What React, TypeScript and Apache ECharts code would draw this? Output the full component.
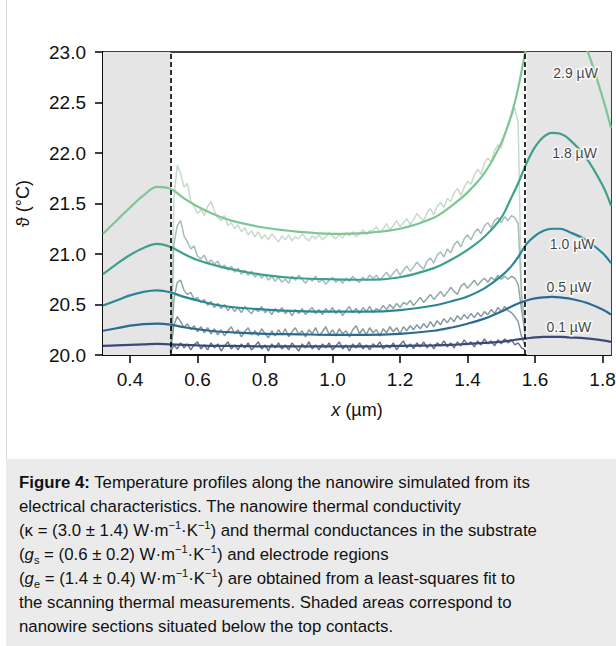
import React, { useEffect, useRef } from "react";
import * as echarts from "echarts";

const FONT = "Liberation Sans, Arial, Helvetica, sans-serif";

// measured (noisy) profiles
const measX = [
  0.52, 0.53, 0.54, 0.55, 0.56, 0.57, 0.58, 0.59, 0.6, 0.61,
  0.62, 0.63, 0.64, 0.65, 0.66, 0.67, 0.68, 0.69, 0.7, 0.71,
  0.72, 0.73, 0.74, 0.75, 0.76, 0.77, 0.78, 0.79, 0.8, 0.81,
  0.82, 0.83, 0.84, 0.85, 0.86, 0.87, 0.88, 0.89, 0.9, 0.91,
  0.92, 0.93, 0.94, 0.95, 0.96, 0.97, 0.98, 0.99, 1.0, 1.01,
  1.02, 1.03, 1.04, 1.05, 1.06, 1.07, 1.08, 1.09, 1.1, 1.11,
  1.12, 1.13, 1.14, 1.15, 1.16, 1.17, 1.18, 1.19, 1.2, 1.21,
  1.22, 1.23, 1.24, 1.25, 1.26, 1.27, 1.28, 1.29, 1.3, 1.31,
  1.32, 1.33, 1.34, 1.35, 1.36, 1.37, 1.38, 1.39, 1.4, 1.41,
  1.42, 1.43, 1.44, 1.45, 1.46, 1.47, 1.48, 1.49, 1.5, 1.51,
  1.52, 1.53, 1.54, 1.55, 1.56, 1.57,
];
const meas29 = [
  20.05, 21.55, 21.88, 21.8, 21.66, 21.7, 21.52, 21.47, 21.4, 21.44,
  21.38, 21.47, 21.52, 21.43, 21.36, 21.33, 21.38, 21.28, 21.31, 21.25,
  21.29, 21.22, 21.26, 21.19, 21.23, 21.17, 21.22, 21.15, 21.19, 21.14,
  21.2, 21.16, 21.12, 21.18, 21.14, 21.19, 21.13, 21.17, 21.15, 21.2,
  21.16, 21.13, 21.18, 21.15, 21.19, 21.14, 21.17, 21.21, 21.18, 21.15,
  21.19, 21.16, 21.21, 21.18, 21.22, 21.17, 21.2, 21.24, 21.19, 21.23,
  21.23, 21.27, 21.21, 21.25, 21.3, 21.24, 21.28, 21.33, 21.27, 21.31,
  21.35, 21.29, 21.34, 21.4, 21.36, 21.33, 21.41, 21.45, 21.39, 21.47,
  21.51, 21.46, 21.55, 21.52, 21.6, 21.65, 21.58, 21.66, 21.72, 21.69,
  21.78, 21.84, 21.79, 21.9, 21.95, 21.91, 22.02, 22.08, 22.05, 22.18,
  22.27, 22.36, 22.45, 22.3, 20.55, 20.2,
];
const meas18 = [
  20.03, 21.1, 21.28, 21.33, 21.18, 21.12, 21.05, 21.08, 20.98, 20.95,
  20.99, 20.91, 20.94, 20.9, 20.93, 20.86, 20.89, 20.84, 20.88, 20.82,
  20.86, 20.8, 20.84, 20.79, 20.83, 20.77, 20.81, 20.76, 20.8, 20.74,
  20.78, 20.73, 20.77, 20.72, 20.75, 20.71, 20.78, 20.74, 20.79, 20.75,
  20.71, 20.76, 20.73, 20.78, 20.72, 20.75, 20.7, 20.74, 20.77, 20.72,
  20.75, 20.71, 20.76, 20.73, 20.78, 20.74, 20.72, 20.77, 20.74, 20.79,
  20.76, 20.79, 20.74, 20.78, 20.82, 20.77, 20.81, 20.85, 20.79, 20.84,
  20.88, 20.83, 20.87, 20.92, 20.88, 20.85, 20.93, 20.96, 20.91, 20.99,
  21.02, 20.97, 21.05, 21.01, 21.09, 21.13, 21.07, 21.15, 21.19, 21.14,
  21.21, 21.25, 21.2, 21.28, 21.31, 21.26, 21.33, 21.36, 21.31, 21.37,
  21.33, 21.38, 21.36, 21.3, 20.6, 20.3,
];
const meas10 = [
  20.02, 20.55, 20.72, 20.74, 20.64, 20.6, 20.62, 20.55, 20.57, 20.52,
  20.55, 20.49, 20.53, 20.47, 20.51, 20.46, 20.5, 20.44, 20.48, 20.43,
  20.47, 20.42, 20.48, 20.44, 20.41, 20.46, 20.43, 20.48, 20.42, 20.45,
  20.4, 20.46, 20.42, 20.47, 20.41, 20.44, 20.39, 20.45, 20.41, 20.46,
  20.4, 20.44, 20.47, 20.41, 20.45, 20.4, 20.46, 20.42, 20.47, 20.41,
  20.45, 20.39, 20.44, 20.48, 20.42, 20.46, 20.41, 20.47, 20.43, 20.48,
  20.42, 20.46, 20.44, 20.49, 20.45, 20.5, 20.46, 20.51, 20.47, 20.52,
  20.5, 20.54, 20.49, 20.53, 20.57, 20.52, 20.56, 20.6, 20.55, 20.59,
  20.63, 20.58, 20.62, 20.67, 20.63, 20.6, 20.68, 20.71, 20.66, 20.7,
  20.74, 20.69, 20.73, 20.76, 20.72, 20.77, 20.74, 20.79, 20.75, 20.78,
  20.75, 20.78, 20.76, 20.7, 20.45, 20.22,
];
const meas05 = [
  20.02, 20.3, 20.38, 20.33, 20.27, 20.31, 20.25, 20.29, 20.23, 20.28,
  20.22, 20.27, 20.21, 20.26, 20.2, 20.25, 20.19, 20.24, 20.28, 20.21,
  20.25, 20.18, 20.23, 20.27, 20.2, 20.24, 20.19, 20.26, 20.21, 20.17,
  20.24, 20.19, 20.25, 20.2, 20.26, 20.18, 20.23, 20.27, 20.2, 20.24,
  20.18, 20.25, 20.21, 20.27, 20.19, 20.23, 20.28, 20.2, 20.25, 20.19,
  20.26, 20.21, 20.24, 20.18, 20.25, 20.29, 20.21, 20.26, 20.2, 20.27,
  20.22, 20.25, 20.19, 20.26, 20.22, 20.28, 20.23, 20.27, 20.21, 20.28,
  20.24, 20.29, 20.25, 20.3, 20.26, 20.31, 20.27, 20.33, 20.28, 20.34,
  20.3, 20.36, 20.32, 20.37, 20.33, 20.39, 20.35, 20.4, 20.36, 20.41,
  20.37, 20.42, 20.38, 20.43, 20.4, 20.45, 20.41, 20.47, 20.43, 20.48,
  20.44, 20.42, 20.38, 20.33, 20.18, 20.1,
];
const meas01 = [
  20.03, 20.1, 20.06, 20.12, 20.07, 20.11, 20.05, 20.1, 20.13, 20.06,
  20.1, 20.05, 20.12, 20.07, 20.11, 20.04, 20.09, 20.13, 20.06, 20.1,
  20.05, 20.11, 20.07, 20.12, 20.05, 20.09, 20.13, 20.06, 20.1, 20.04,
  20.11, 20.07, 20.12, 20.06, 20.1, 20.05, 20.12, 20.08, 20.04, 20.11,
  20.07, 20.13, 20.06, 20.1, 20.05, 20.11, 20.07, 20.12, 20.05, 20.09,
  20.13, 20.06, 20.1, 20.04, 20.11, 20.07, 20.12, 20.06, 20.1, 20.05,
  20.11, 20.08, 20.13, 20.06, 20.1, 20.07, 20.12, 20.05, 20.1, 20.14,
  20.07, 20.11, 20.06, 20.12, 20.08, 20.13, 20.07, 20.11, 20.06, 20.12,
  20.09, 20.14, 20.08, 20.12, 20.07, 20.13, 20.09, 20.15, 20.1, 20.13,
  20.08, 20.14, 20.1, 20.16, 20.11, 20.14, 20.09, 20.15, 20.11, 20.16,
  20.12, 20.15, 20.1, 20.12, 20.07, 20.05,
];

// simulated profiles
const modelX = [
  0.32, 0.36, 0.4, 0.44, 0.48, 0.52, 0.56, 0.6, 0.65, 0.7, 0.8, 0.9, 1.0, 1.1, 1.2, 1.3,
  1.35, 1.4, 1.45, 1.5, 1.53, 1.55, 1.575, 1.6, 1.625, 1.65, 1.675, 1.7, 1.75, 1.8, 1.825,
];
const model29 = [
  21.2, 21.33, 21.46, 21.58, 21.665, 21.645, 21.55, 21.47, 21.39, 21.33, 21.26, 21.22, 21.2, 21.21, 21.25, 21.36,
  21.47, 21.61, 21.8, 22.1, 22.38, 22.64, 23.05, 23.28, 23.39, 23.42, 23.4, 23.32, 23.05, 22.55, 22.25,
];
const model18 = [
  20.8, 20.9, 20.99, 21.06, 21.1, 21.07, 21.0, 20.94, 20.89, 20.85, 20.79, 20.76, 20.75, 20.745, 20.77, 20.86,
  20.94, 21.04, 21.17, 21.36, 21.56, 21.7, 21.9, 22.06, 22.16, 22.2, 22.19, 22.14, 21.96, 21.68, 21.48,
];
const model10 = [
  20.49, 20.54, 20.59, 20.625, 20.64, 20.62, 20.575, 20.54, 20.5, 20.475, 20.45, 20.435, 20.43, 20.43, 20.445, 20.49,
  20.53, 20.58, 20.66, 20.78, 20.88, 20.97, 21.1, 21.18, 21.23, 21.25, 21.25, 21.22, 21.14, 21.01, 20.91,
];
const model05 = [
  20.24, 20.265, 20.29, 20.305, 20.31, 20.3, 20.275, 20.255, 20.235, 20.225, 20.21, 20.205, 20.2, 20.2, 20.21, 20.24,
  20.27, 20.31, 20.36, 20.43, 20.48, 20.51, 20.54, 20.56, 20.57, 20.575, 20.57, 20.56, 20.52, 20.45, 20.4,
];
const model01 = [
  20.09, 20.095, 20.1, 20.105, 20.11, 20.105, 20.1, 20.095, 20.09, 20.09, 20.085, 20.085, 20.085, 20.085, 20.09, 20.095,
  20.1, 20.11, 20.12, 20.13, 20.145, 20.155, 20.165, 20.175, 20.18, 20.18, 20.18, 20.175, 20.165, 20.145, 20.13,
];

const powerLabels = ["2.9 µW", "1.8 µW", "1.0 µW", "0.5 µW", "0.1 µW"];
const labelX = [1.72, 1.717, 1.71, 1.7, 1.7];
const labelY = [22.79, 22.0, 21.1, 20.67, 20.28];

const xTicks = [0.4, 0.6, 0.8, 1.0, 1.2, 1.4, 1.6, 1.8];
const contactEdges = [0.52, 1.575];
const xMin = 0.32;
const xMax = 1.825;

const modelColors = ["#7fc695", "#3fa08d", "#2b8798", "#2b6b91", "#3a4a7b"];
const measColors = ["#c8dbca", "#a6bdb8", "#90a8a9", "#8898a1", "#6c7787"];

const tickText = {
  fontFamily: FONT,
  fontSize: 19,
  color: "#111",
};

export default function App() {
  const ref = useRef<HTMLDivElement>(null);

  useEffect(() => {
    const chart = echarts.init(ref.current!, null, { renderer: "svg" });
    const meas = [meas29, meas18, meas10, meas05, meas01];
    const models = [model29, model18, model10, model05, model01];

    const measSeries = meas.map((arr, k) => ({
      type: "line",
      name: "meas " + powerLabels[k],
      data: measX.map((x, i) => [x, arr[i]]),
      showSymbol: false,
      symbol: "none",
      z: 2,
      lineStyle: { color: measColors[k], width: 1.5 },
      silent: true,
    }));
    const modelSeries = models.map((arr, k) => ({
      type: "line",
      name: "model " + powerLabels[k],
      data: modelX.map((x, i) => [x, arr[i]]),
      showSymbol: false,
      symbol: "none",
      smooth: 0.35,
      z: 3,
      lineStyle: { color: modelColors[k], width: 2.2 },
      silent: true,
    }));

    const option: any = {
      animation: false,
      textStyle: { fontFamily: FONT },
      grid: {
        left: 103,
        right: 5,
        top: 52,
        bottom: 104,
        show: true,
        borderColor: "#000",
        borderWidth: 1.5,
        backgroundColor: "transparent",
        containLabel: false,
        outerBoundsMode: "none",
      },
      xAxis: {
        type: "value",
        min: xMin,
        max: xMax,
        name: "{it|x} (µm)",
        nameLocation: "middle",
        nameGap: 46,
        nameMoveOverlap: false,
        nameTextStyle: {
          ...tickText,
          fontSize: 18,
          rich: { it: { ...tickText, fontSize: 18, fontStyle: "italic" } },
        },
        axisLine: { show: true, lineStyle: { color: "#000", width: 1.5 } },
        axisTick: { show: true, length: 8, lineStyle: { color: "#000", width: 1.5 }, customValues: xTicks },
        axisLabel: {
          customValues: xTicks,
          margin: 15,
          ...tickText,
          formatter: (v: number) => v.toFixed(1),
        },
        splitLine: { show: false },
      },
      yAxis: {
        type: "value",
        min: 20,
        max: 23,
        interval: 0.5,
        name: "ϑ (°C)",
        nameLocation: "middle",
        nameGap: 71,
        nameMoveOverlap: false,
        nameTextStyle: { ...tickText, fontSize: 18 },
        axisLine: { show: true, lineStyle: { color: "#000", width: 1.5 } },
        axisTick: { show: true, length: 8, lineStyle: { color: "#000", width: 1.5 } },
        axisLabel: {
          margin: 17,
          ...tickText,
          formatter: (v: number) => v.toFixed(1),
        },
        splitLine: { show: false },
      },
      series: [
        {
          type: "line",
          name: "contacts",
          data: [],
          z: 0,
          silent: true,
          markArea: {
            silent: true,
            itemStyle: { color: "#e5e5e5" },
            data: [
              [{ xAxis: xMin }, { xAxis: contactEdges[0] }],
              [{ xAxis: contactEdges[1] }, { xAxis: xMax }],
            ],
          },
        },
        ...measSeries,
        ...modelSeries,
        {
          type: "line",
          name: "edges",
          data: [],
          z: 4,
          silent: true,
          markLine: {
            silent: true,
            symbol: "none",
            label: { show: false },
            lineStyle: { color: "#000", width: 1.6, type: [5, 3] },
            data: contactEdges.map((x) => ({ xAxis: x })),
          },
        },
        {
          type: "scatter",
          name: "labels",
          z: 5,
          silent: true,
          symbolSize: 0,
          data: powerLabels.map((n, i) => ({ value: [labelX[i], labelY[i]], name: n })),
          label: {
            show: true,
            position: "inside",
            formatter: "{b}",
            fontFamily: FONT,
            fontSize: 14,
            color: "#111",
            textBorderColor: "#fff",
            textBorderWidth: 3,
          },
        },
      ],
    };
    chart.setOption(option);
    return () => chart.dispose();
  }, []);

  const sup = { fontSize: 11, lineHeight: 0, verticalAlign: "super" as const };
  const sub = { fontSize: 11, lineHeight: 0, verticalAlign: "sub" as const };

  return (
    <div
      style={{
        position: "fixed",
        left: 0,
        top: 0,
        width: 616,
        height: 646,
        background: "#fff",
        fontFamily: FONT,
        overflow: "hidden",
      }}
    >
      <div style={{ position: "absolute", left: 6, top: 0, width: 1, height: 646, background: "#d9d9d9" }} />
      <div ref={ref} style={{ position: "absolute", left: 0, top: 0, width: 616, height: 459 }} />
      <div
        style={{
          position: "absolute",
          left: 6,
          top: 459,
          width: 610,
          height: 187,
          background: "#ebebeb",
        }}
      >
        <div
          style={{
            position: "absolute",
            left: 13,
            top: 12,
            fontSize: 16.8,
            lineHeight: "24px",
            color: "#111",
            whiteSpace: "nowrap",
          }}
        >
          <b>Figure 4:</b> Temperature profiles along the nanowire simulated from its
          <br />
          electrical characteristics. The nanowire thermal conductivity
          <br />
          (κ = (3.0 ± 1.4) W·m<span style={sup}>−1</span>·K<span style={sup}>−1</span>) and thermal conductances in the substrate
          <br />
          (<i>g</i>
          <span style={sub}>s</span> = (0.6 ± 0.2) W·m<span style={sup}>−1</span>·K<span style={sup}>−1</span>) and electrode regions
          <br />
          (<i>g</i>
          <span style={sub}>e</span> = (1.4 ± 0.4) W·m<span style={sup}>−1</span>·K<span style={sup}>−1</span>) are obtained from a least-squares fit to
          <br />
          the scanning thermal measurements. Shaded areas correspond to
          <br />
          nanowire sections situated below the top contacts.
        </div>
      </div>
    </div>
  );
}
